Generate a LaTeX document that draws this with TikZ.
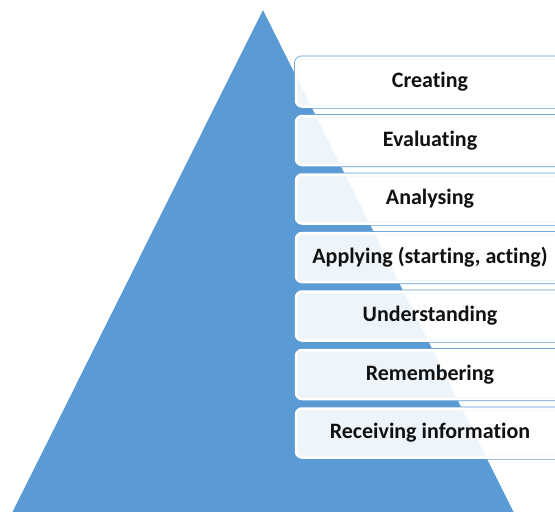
\documentclass[tikz,border=0pt]{standalone}
\usepackage{fontspec}
\setmainfont[Ligatures={NoCommon}]{Carlito}
\usepackage{tikz}

\definecolor{pyrblue}{HTML}{5B9BD5}
\definecolor{lvltext}{HTML}{111111}

\tikzset{
  levelbox/.style={rectangle, rounded corners=6pt, minimum width=268pt,
    minimum height=49pt, inner sep=0pt,
    preaction={draw=pyrblue, line width=4pt},
    fill=white, fill opacity=0.9, text opacity=1,
    draw=white, line width=2.5pt,
    text=lvltext, font=\bfseries\fontsize{22}{24}\selectfont}
}

\begin{document}
\begin{tikzpicture}[x=1pt,y=-1pt]

\useasboundingbox (0,0) rectangle (555,512);
\clip (0,0) rectangle (555,512);

% pyramid
\fill[pyrblue] (263,10) -- (514,513) -- (12,513) -- cycle;

% levels
\foreach \i\lbl in {0/Creating,1/Evaluating,2/Analysing,
  3/{Applying (starting, acting)},4/Understanding,
  5/Remembering,6/Receiving information}
\node[levelbox] (lvl\i) at (430,{82+58.5*\i}) {\lbl};

\end{tikzpicture}
\end{document}
